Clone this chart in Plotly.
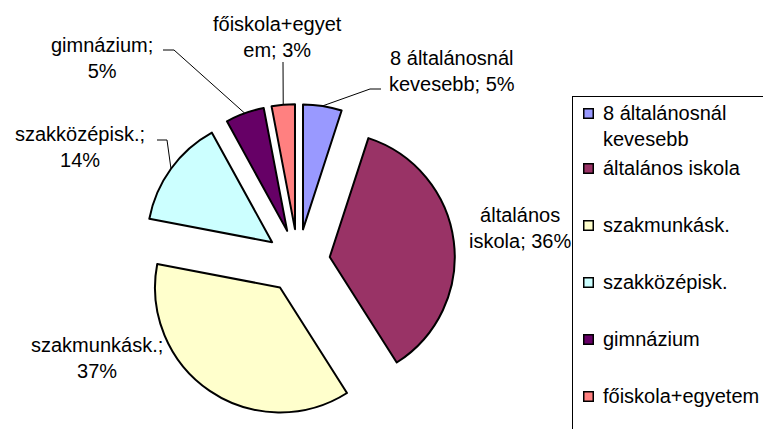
import math
import plotly.graph_objects as go

# ---------------- data ----------------
labels = ["8 általánosnál kevesebb", "általános iskola", "szakmunkásk.",
          "szakközépisk.", "gimnázium", "főiskola+egyetem"]
values = [5, 36, 37, 14, 5, 3]
colors = ["#9999FF", "#993366", "#FFFFCC", "#CCFFFF", "#660066", "#FF8080"]
legend_labels = ["8 általánosnál<br>kevesebb", "általános iskola", "szakmunkásk.",
                 "szakközépisk.", "gimnázium", "főiskola+egyetem"]
label_break_at = [14, 9, 13, 14, 10, 14]

# ---------------- layout constants ----------------
W, H = 771, 429
OFF = 8            # page body margin of the written html page
PULL = 0.256
PIE_CX, PIE_CY, PIE_R = 298, 261, 125   # target pixel placement of the pie
FONT = "Liberation Sans, Arial, sans-serif"
FS = 20

def px(x):
    return (x - OFF) / W

def py(y):
    return 1 - (y - OFF) / H

ext = PIE_R * (1 + PULL)
DOM_X = [px(PIE_CX - ext), px(PIE_CX + ext)]
DOM_Y = [py(PIE_CY + ext), py(PIE_CY - ext)]

fig = go.Figure(go.Pie(
    labels=labels, values=values, sort=False, direction="clockwise", rotation=0,
    pull=[PULL] * len(values),
    marker=dict(colors=colors, line=dict(color="black", width=2)),
    textinfo="none", hoverinfo="none", showlegend=False,
    domain=dict(x=DOM_X, y=DOM_Y),
))

# pie geometry as plotly computes it (in page pixels)
availW = W * (DOM_X[1] - DOM_X[0])
availH = H * (DOM_Y[1] - DOM_Y[0])
r = min(availW, availH) / (2 + 2 * PULL)
cx = W * (DOM_X[0] + DOM_X[1]) / 2 + OFF
cy = H * (1 - DOM_Y[0]) - availH / 2 + OFF
total = sum(values)

# label text / positions (page pixels)
label_pos = [(452, 71), (520, 228), (97, 358), (80, 147), (102, 58), (277, 37)]
leader_elbows = [[(370, 89), (381, 89)], None, None,
                 [(167, 140), (157, 140)], [(174, 50), (163, 50)], [(283, 62)]]

shapes = []
annotations = []
cum = 0
for i, v in enumerate(values):
    a = 2 * math.pi * (cum + v / 2) / total
    cum += v
    dist = r * (1 + PULL)
    sx = cx + dist * math.sin(a)
    sy = cy - dist * math.cos(a)
    pct = round(100 * v / total)
    s = f"{labels[i]}; {pct}%"
    b = label_break_at[i]
    text = s[:b] + "<br>" + s[b:].lstrip()
    lx, ly = label_pos[i]
    annotations.append(dict(
        x=px(lx), y=py(ly), xref="paper", yref="paper", text=text, showarrow=False,
        xanchor="center", yanchor="middle", align="center",
        font=dict(family=FONT, size=FS, color="black")))
    if leader_elbows[i]:
        pts = [(sx, sy)] + leader_elbows[i]
        path = "M " + " L ".join(f"{px(x)},{py(y)}" for x, y in pts)
        shapes.append(dict(type="path", path=path, xref="paper", yref="paper",
                           line=dict(color="black", width=1), layer="above"))

# legend box (annotation so it covers the overlapping data label)
LEG_X, LEG_Y = 572, 96
annotations.append(dict(
    x=px(LEG_X), y=py(LEG_Y), xref="paper", yref="paper", text=" ", showarrow=False,
    xanchor="left", yanchor="top", width=260, height=400, bgcolor="white",
    bordercolor="black", borderwidth=1, borderpad=0))

marker_cy = [113, 168, 225, 282, 339, 396]
for i, lab in enumerate(legend_labels):
    my = marker_cy[i]
    annotations.append(dict(
        x=px(583), y=py(my), xref="paper", yref="paper", text=" ", showarrow=False,
        xanchor="left", yanchor="middle", width=8, height=8, bgcolor=colors[i],
        bordercolor="black", borderwidth=1.5, borderpad=0, font=dict(size=4)))
    nlines = lab.count("<br>") + 1
    ty = my + (nlines - 1) * 13
    annotations.append(dict(
        x=px(601), y=py(ty), xref="paper", yref="paper", text=lab, showarrow=False,
        xanchor="left", yanchor="middle", align="left",
        font=dict(family=FONT, size=FS, color="black")))

fig.update_layout(
    width=W, height=H, margin=dict(l=0, r=0, t=0, b=0),
    paper_bgcolor="white", plot_bgcolor="white", showlegend=False,
    shapes=shapes, annotations=annotations,
)

fig.write_html("out.html")
